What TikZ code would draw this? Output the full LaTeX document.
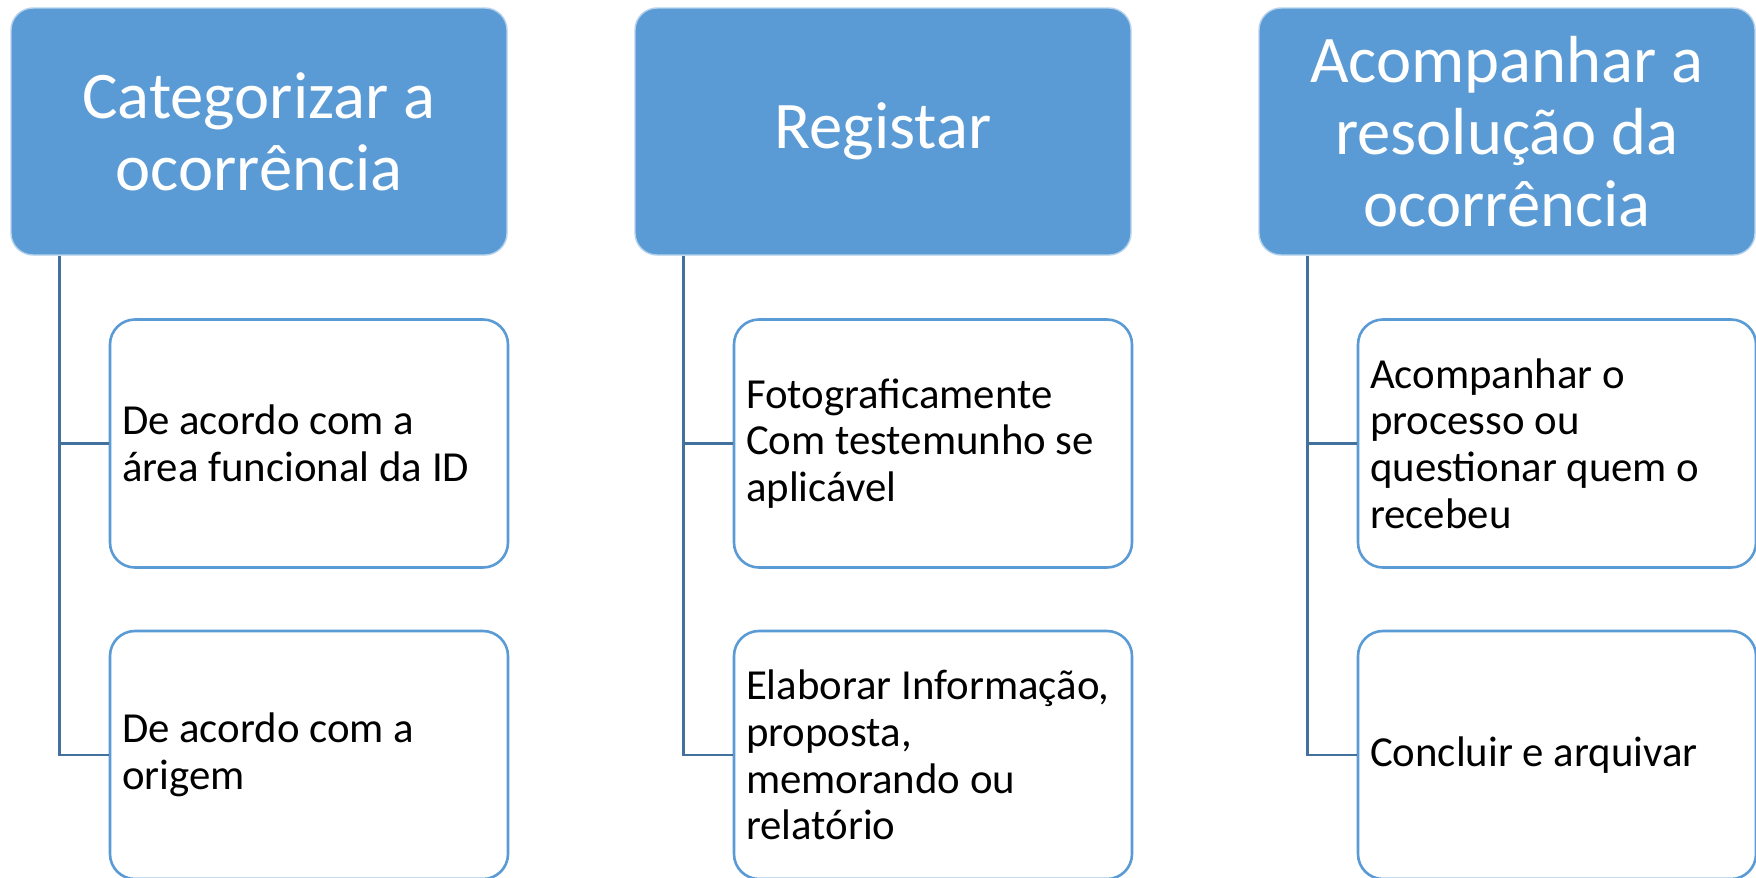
\documentclass[tikz,border=0pt]{standalone}
\usepackage{fontspec}
\setmainfont{Carlito}
\usetikzlibrary{calc}
\definecolor{hdr}{HTML}{5B9BD5}
\definecolor{conncol}{HTML}{41719C}
\tikzset{
  hdrbox/.style={rectangle, rounded corners=11pt, fill=hdr, draw=white!55!hdr, line width=0.7pt,
    minimum width=248pt, minimum height=123.5pt, align=center,
    text=white, font=\fontsize{33.3}{36}\selectfont, inner sep=0pt},
  childbox/.style={rectangle, rounded corners=12.5pt, fill=white, draw=hdr, line width=1.3pt,
    minimum width=199pt, minimum height=124pt, inner sep=0pt},
  childtext/.style={anchor=west, align=left, text=black,
    font=\fontsize{21.4}{23.4}\selectfont, inner xsep=6.5pt, inner ysep=0pt},
  conn/.style={draw=conncol, line width=1.4pt}
}
\begin{document}
\begin{tikzpicture}[x=0.5pt,y=-0.5pt]
\useasboundingbox (0,0) rectangle (1756,878);
% headers
\node[hdrbox] (h1) at (259,131.5) {Categorizar a\\ocorrência};
\node[hdrbox] (h2) at (883,131.5) {Registar};
\node[hdrbox] (h3) at (1507,131.5) {Acompanhar a\\resolução da\\ocorrência};
% children
\node[childbox] (c11) at (309,443.5) {};
\node[childbox] (c12) at (309,755) {};
\node[childbox] (c21) at (933,443.5) {};
\node[childbox] (c22) at (933,755) {};
\node[childbox] (c31) at (1557,443.5) {};
\node[childbox] (c32) at (1557,755) {};
\node[childtext] (t11) at (c11.west) {De acordo com a\\área funcional da ID};
\node[childtext] (t12) at (c12.west) {De acordo com a\\origem};
\node[childtext] (t21) at (c21.west) {Fotograficamente\\Com testemunho se\\aplicável};
\node[childtext] (t22) at (c22.west) {Elaborar Informação,\\proposta,\\memorando ou\\relatório};
\node[childtext] (t31) at (c31.west) {Acompanhar o\\processo ou\\questionar quem o\\recebeu};
\node[childtext] (t32) at (c32.west) {Concluir e arquivar};
% connectors
\coordinate (s1) at ($(h1.south west)+(49,0)$);
\coordinate (s2) at ($(h2.south west)+(49,0)$);
\coordinate (s3) at ($(h3.south west)+(49,0)$);
\draw[conn] (s1) |- (c11.west);
\draw[conn] (s1) |- (c12.west);
\draw[conn] (s2) |- (c21.west);
\draw[conn] (s2) |- (c22.west);
\draw[conn] (s3) |- (c31.west);
\draw[conn] (s3) |- (c32.west);
\end{tikzpicture}
\end{document}
